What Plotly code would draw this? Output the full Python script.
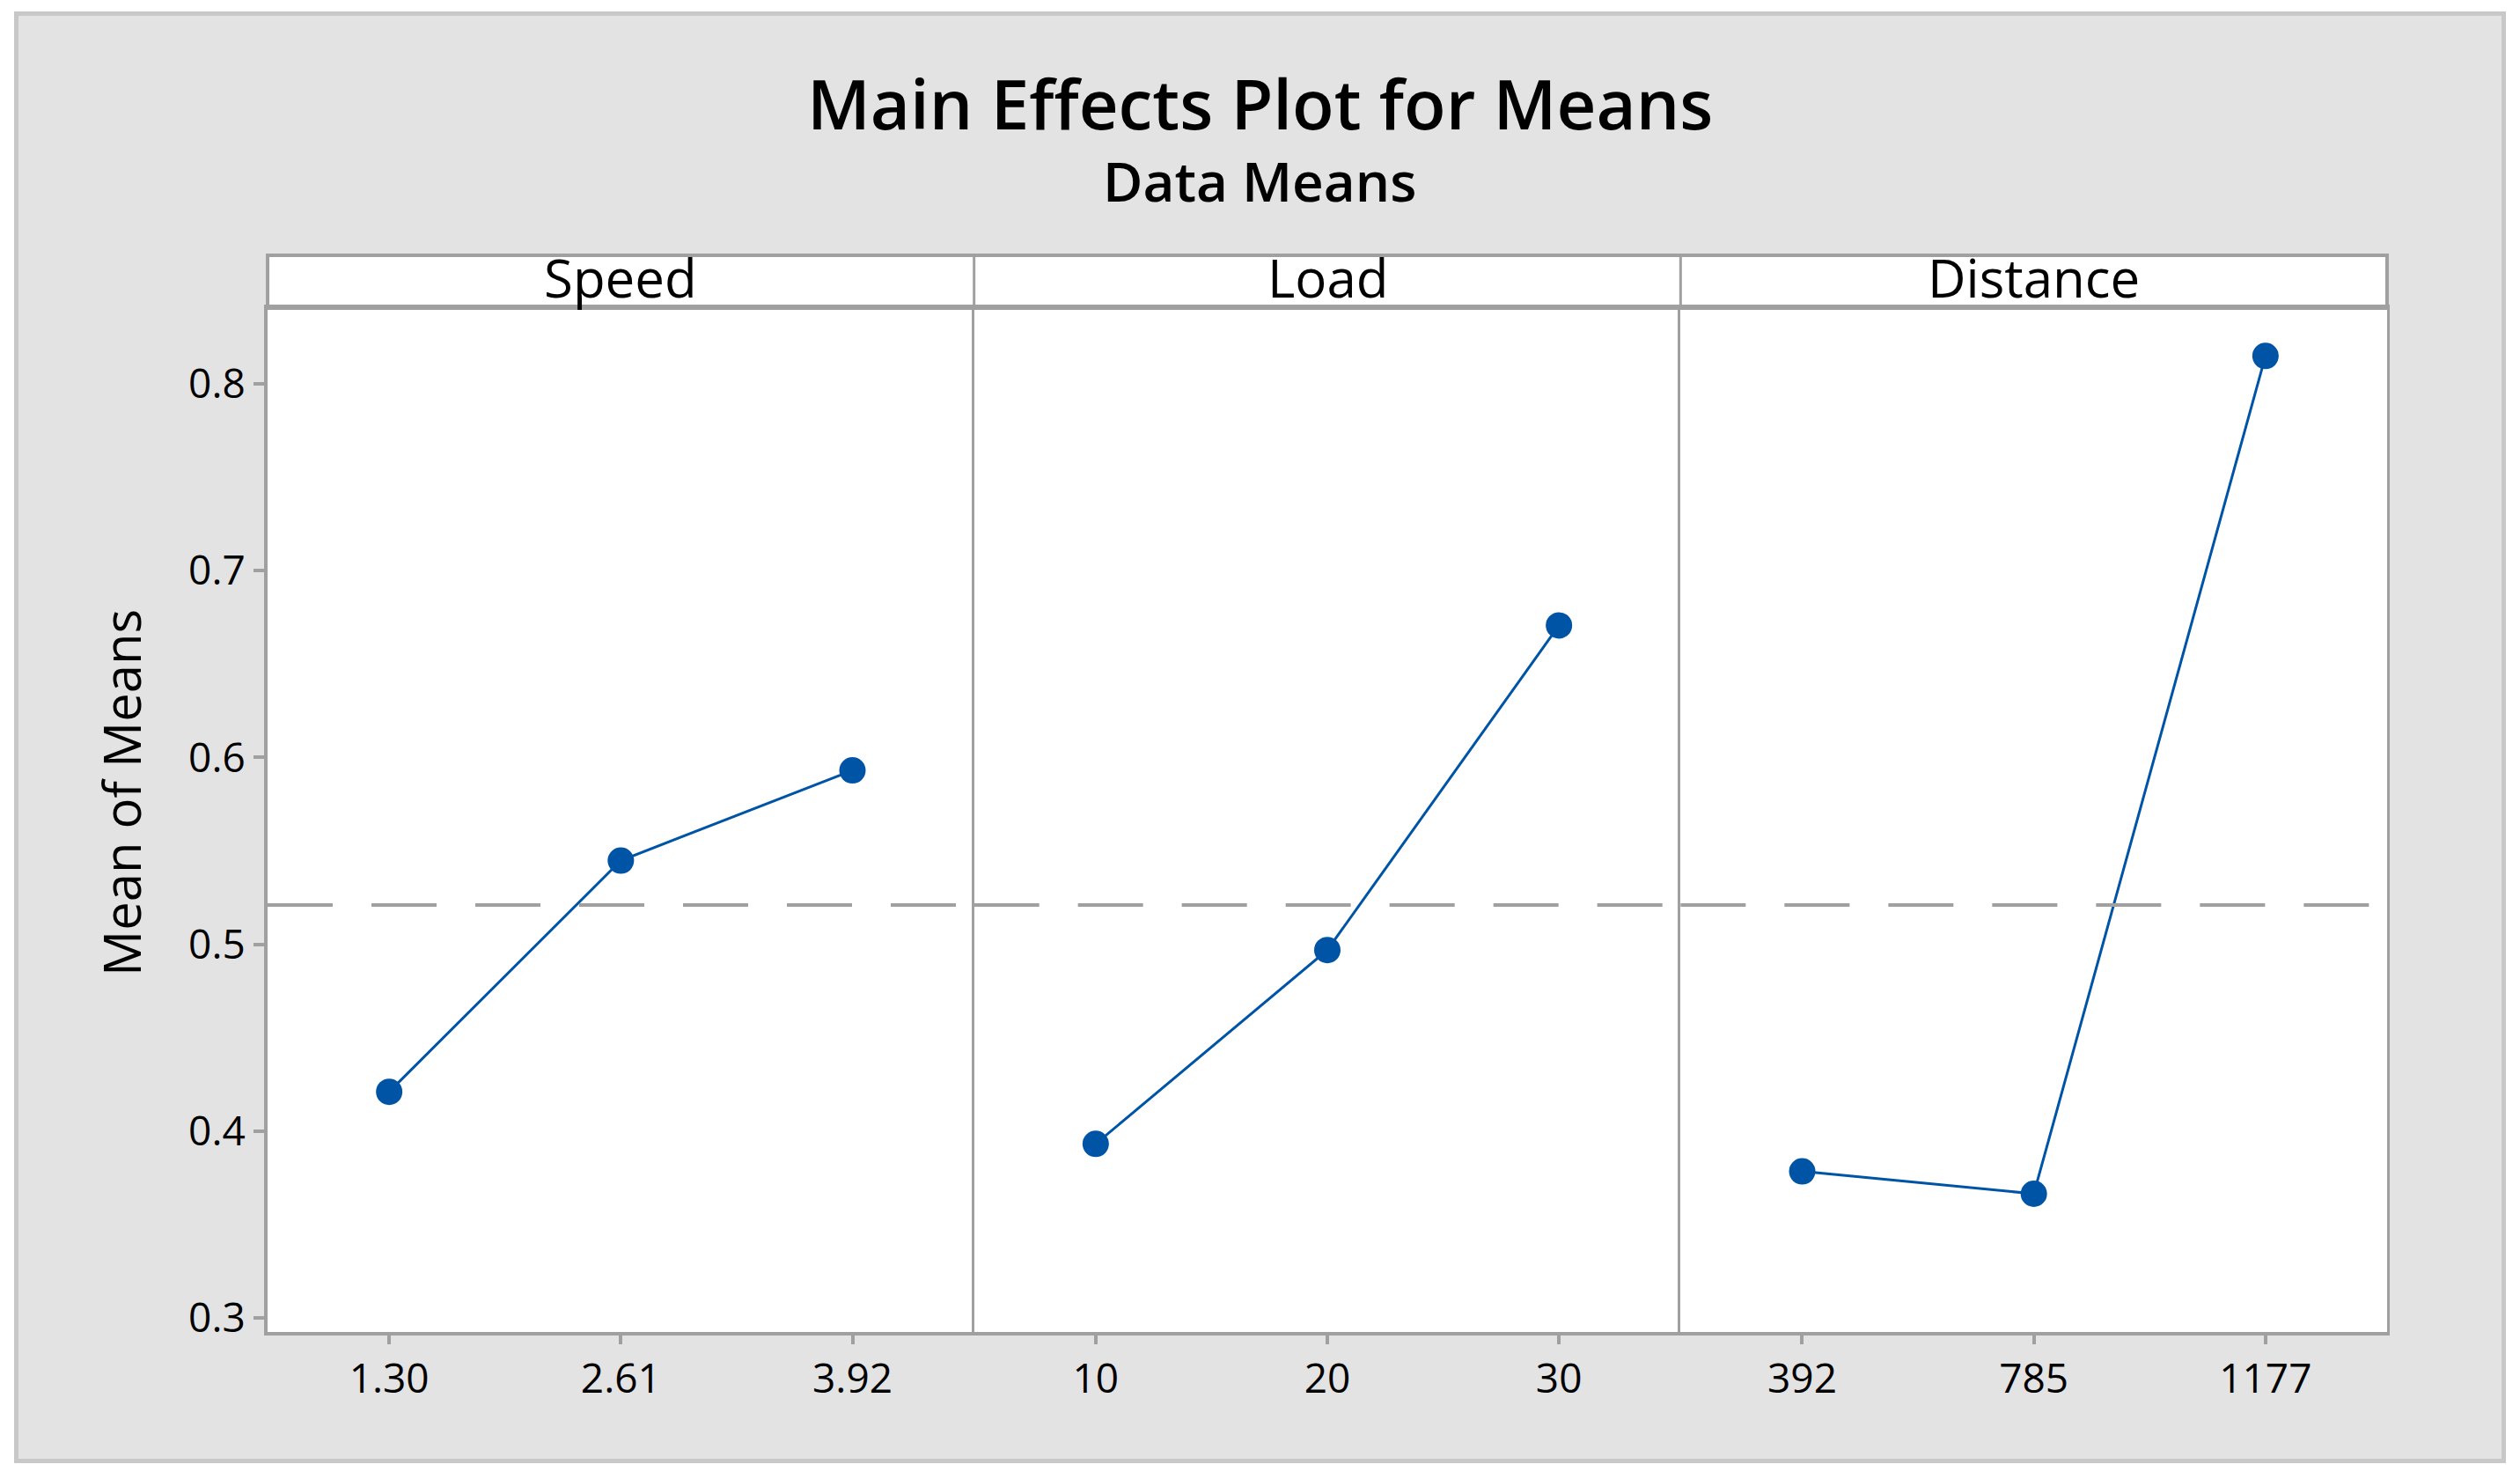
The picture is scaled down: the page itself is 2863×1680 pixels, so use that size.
import plotly.graph_objects as go
from plotly.subplots import make_subplots

# ---- data ----
FACTORS = ["Speed", "Load", "Distance"]
SPEED_LEVELS = ["1.30", "2.61", "3.92"]
SPEED_MEANS = [0.4210, 0.5448, 0.5931]
LOAD_LEVELS = ["10", "20", "30"]
LOAD_MEANS = [0.3931, 0.4969, 0.6707]
DIST_LEVELS = ["392", "785", "1177"]
DIST_MEANS = [0.3784, 0.3664, 0.8150]
GRAND_MEAN = 0.521
Y_TICKS = [0.3, 0.4, 0.5, 0.6, 0.7, 0.8]
Y_TICK_TEXT = ["0.3", "0.4", "0.5", "0.6", "0.7", "0.8"]

TITLE = "Main Effects Plot for Means"
SUBTITLE = "Data Means"
Y_TITLE = "Mean of Means"

# ---- layout constants ----
W, H = 2863, 1680
ML, MR, MT, MB = 304, 151, 350, 167
PW, PH = W - ML - MR, H - MT - MB
BLUE = "#0054a6"
GRAY = "#a0a0a0"
FONT = "Open Sans"


def px_x(px):
    return (px - ML) / PW


def px_y(py):
    return (H - MB - py) / PH


fig = make_subplots(rows=1, cols=3, shared_yaxes=True, horizontal_spacing=0)

series = [(SPEED_LEVELS, SPEED_MEANS), (LOAD_LEVELS, LOAD_MEANS), (DIST_LEVELS, DIST_MEANS)]
for i, (lv, mv) in enumerate(series, start=1):
    fig.add_trace(
        go.Scatter(
            x=lv, y=mv, mode="lines+markers",
            marker=dict(size=30, color=BLUE),
            line=dict(color=BLUE, width=3),
            showlegend=False, hoverinfo="x+y",
        ),
        row=1, col=i,
    )
    fig.update_xaxes(
        type="category", range=[-0.525, 2.525],
        showline=True, mirror=True, linecolor=GRAY, linewidth=4,
        ticks="outside", ticklen=10, tickwidth=4, tickcolor=GRAY,
        tickfont=dict(family=FONT, size=46, color="black", weight=500),
        showgrid=False, zeroline=False, fixedrange=True,
        row=1, col=i,
    )
    fig.update_yaxes(
        range=[0.2924, 0.8406],
        showline=True, mirror=(i == 3), linecolor=GRAY, linewidth=(4 if i != 2 else 3),
        showgrid=False, zeroline=False, fixedrange=True,
        row=1, col=i,
    )
    # grand mean reference line
    xr = "x domain" if i == 1 else f"x{i} domain"
    yr = "y" if i == 1 else f"y{i}"
    fig.add_shape(
        type="line", xref=xr, yref=yr, x0=0, x1=1, y0=GRAND_MEAN, y1=GRAND_MEAN,
        line=dict(color=GRAY, width=4, dash="74px,44px"), layer="above",
    )

fig.update_yaxes(
    tickvals=Y_TICKS, ticktext=Y_TICK_TEXT, ticks="outside", ticklen=12,
    tickwidth=4, tickcolor=GRAY,
    tickfont=dict(family=FONT, size=46, color="black", weight=500),
    row=1, col=1,
)
fig.update_yaxes(showticklabels=False, ticks="", row=1, col=2)
fig.update_yaxes(showticklabels=False, ticks="", linewidth=3, row=1, col=3)

shapes = [
    # outer gray panel
    dict(type="rect", xref="paper", yref="paper",
         x0=px_x(18.5), x1=px_x(2844.5), y0=px_y(1659.5), y1=px_y(15.5),
         fillcolor="#e3e3e3", line=dict(color="#c8c8c8", width=5), layer="below"),
    # white plotting area
    dict(type="rect", xref="paper", yref="paper", x0=0, x1=1, y0=0, y1=1,
         fillcolor="white", line=dict(width=0), layer="below"),
    # strip
    dict(type="rect", xref="paper", yref="paper", x0=0, x1=1, y0=1, y1=px_y(290),
         fillcolor="white", line=dict(color=GRAY, width=4), layer="below"),
]
for xb in (1 / 3, 2 / 3):
    shapes.append(dict(type="line", xref="paper", yref="paper", x0=xb, x1=xb,
                       y0=1, y1=px_y(290), line=dict(color=GRAY, width=3), layer="below"))
for s in shapes:
    fig.add_shape(**s)

annotations = [
    dict(text=TITLE, x=px_x(1431), y=px_y(117), xref="paper", yref="paper",
         showarrow=False, xanchor="center", yanchor="middle",
         font=dict(family=FONT, size=78, color="black", weight=600)),
    dict(text=SUBTITLE, x=px_x(1431), y=px_y(205), xref="paper", yref="paper",
         showarrow=False, xanchor="center", yanchor="middle",
         font=dict(family=FONT, size=62, color="black", weight=600)),
    dict(text=Y_TITLE, x=px_x(137), y=px_y(901), xref="paper", yref="paper",
         showarrow=False, xanchor="center", yanchor="middle", textangle=-90,
         font=dict(family=FONT, size=58, color="black", weight=500)),
]
for k, name in enumerate(FACTORS):
    annotations.append(dict(text=name, x=(k + 0.5) / 3, y=px_y(315), xref="paper", yref="paper",
                            showarrow=False, xanchor="center", yanchor="middle",
                            font=dict(family=FONT, size=60, color="black", weight=500)))

fig.update_layout(
    width=W, height=H,
    margin=dict(l=ML, r=MR, t=MT, b=MB, pad=0),
    paper_bgcolor="white", plot_bgcolor="white",
    annotations=annotations,
    showlegend=False,
)

fig.write_html("out.html", config={"displayModeBar": False})
